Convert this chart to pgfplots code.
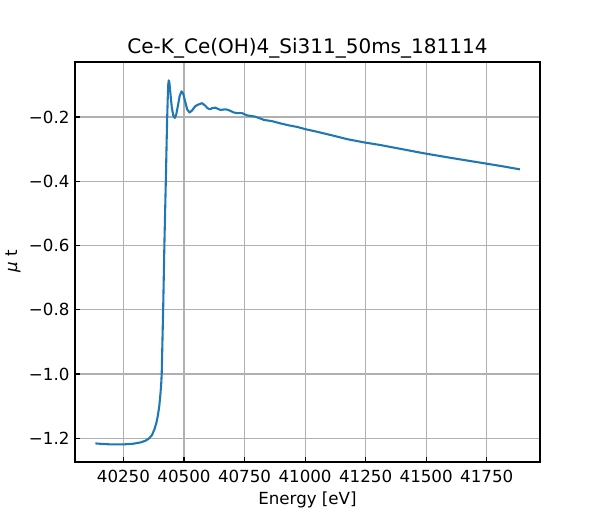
\documentclass[border=0pt]{standalone}
\usepackage{fontspec}
\setmainfont{DejaVu Sans}
\usepackage{pgfplots}
\pgfplotsset{compat=1.18}
\definecolor{mplblue}{HTML}{1F77B4}
\definecolor{gridgray}{HTML}{B0B0B0}
\begin{document}
\begin{tikzpicture}[font=\fontsize{12}{14.4}\selectfont]
\useasboundingbox (0,0) rectangle (432pt,374.4pt);
\begin{axis}[
  at={(54pt,41.76pt)}, anchor=south west,
  scale only axis, width=334.8pt, height=288pt,
  xmin=40050, xmax=41970, ymin=-1.2738, ymax=-0.0288,
  axis line style={line width=0.8pt, black},
  tick align=inside, xtick pos=bottom, ytick pos=left,
  major tick length=3.5pt,
  tick style={line width=0.8pt, black},
  grid=major, grid style={line width=0.8pt, color=gridgray},
  xtick={40250,40500,40750,41000,41250,41500,41750},
  xticklabels={\mbox{40250},\mbox{40500},\mbox{40750},\mbox{41000},\mbox{41250},\mbox{41500},\mbox{41750}},
  ytick={-1.2,-1.0,-0.8,-0.6,-0.4,-0.2},
  yticklabels={\mbox{−1.2},\mbox{−1.0},\mbox{−0.8},\mbox{−0.6},\mbox{−0.4},\mbox{−0.2}},
  tick label style={font=\fontsize{12}{14.4}\selectfont},
  xticklabel style={anchor=north, inner sep=0pt, yshift=-5.6pt},
  yticklabel style={anchor=east, inner sep=0pt, xshift=-3.8pt},
  scaled ticks=false,
]
\addplot[mplblue, line width=1.5pt, line join=round] coordinates {
(40134,-1.216) (40170,-1.218) (40200,-1.219) (40251,-1.219) (40290,-1.217)
(40320,-1.213) (40340,-1.208) (40355,-1.201) (40368,-1.190) (40378,-1.172)
(40386,-1.152) (40392,-1.130) (40398,-1.100) (40403,-1.060) (40406,-1.030)
(40408,-1.000) (40411,-0.900) (40414,-0.800) (40419,-0.600) (40425,-0.400)
(40430,-0.220) (40433,-0.140) (40435,-0.100) (40437,-0.086) (40440,-0.095)
(40445,-0.135) (40450,-0.172) (40456,-0.196) (40462,-0.203) (40468,-0.192)
(40475,-0.165) (40482,-0.135) (40490,-0.120) (40497,-0.128) (40505,-0.152)
(40513,-0.176) (40523,-0.186) (40533,-0.180) (40547,-0.166) (40560,-0.161)
(40575,-0.157) (40588,-0.165) (40598,-0.173) (40607,-0.176) (40618,-0.172)
(40630,-0.171) (40641,-0.175) (40651,-0.178) (40661,-0.177) (40671,-0.176)
(40682,-0.178) (40692,-0.181) (40706,-0.186) (40720,-0.188) (40740,-0.188)
(40761,-0.195) (40795,-0.199) (40830,-0.209) (40864,-0.213) (40899,-0.220)
(40933,-0.226) (40968,-0.231) (41002,-0.238) (41050,-0.246) (41105,-0.256)
(41174,-0.269) (41243,-0.279) (41309,-0.287) (41400,-0.300) (41491,-0.313)
(41600,-0.327) (41739,-0.344) (41820,-0.354) (41887,-0.363)
};
\end{axis}
\node[anchor=base, font=\fontsize{14.4}{17}\selectfont] at (221.4pt,335.9pt) {Ce-K\_Ce(OH)4\_Si311\_50ms\_181114};
\node[anchor=base] at (221.4pt,10.8pt) {Energy [eV]};
\node[rotate=90, anchor=center] at (9.4pt,186pt) {\textit{μ} t};
\end{tikzpicture}
\end{document}
